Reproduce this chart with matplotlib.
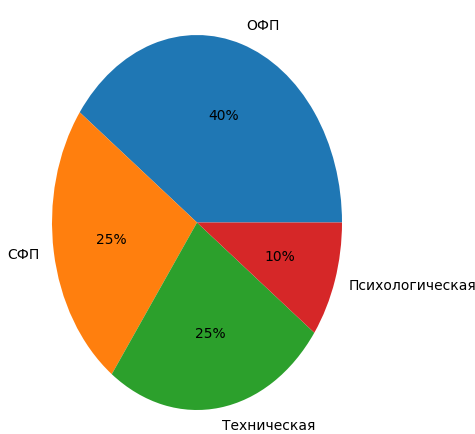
import matplotlib
matplotlib.use("Agg")
import matplotlib.pyplot as plt

labels = ["ОФП", "СФП", "Техническая", "Психологическая"]
shares = [40, 25, 25, 10]

fig = plt.figure(figsize=(4.75, 4.34), dpi=100)
# pie is stretched vertically in the reference, so axes aspect is left free
ax = fig.add_axes([0.1095, 0.0553, 0.6105, 0.864])

ax.pie(shares, labels=labels, autopct="%1.0f%%",
       textprops={"fontsize": 10, "family": "DejaVu Sans"})
ax.set_aspect("auto")
ax.set_xlim(-1, 1)
ax.set_ylim(-1, 1)

fig.savefig("out.png", dpi=100, facecolor="white")
